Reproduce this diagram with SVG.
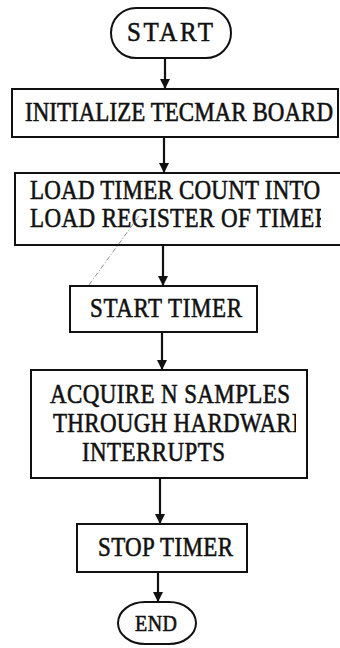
<svg xmlns="http://www.w3.org/2000/svg" width="340" height="648" viewBox="0 0 340 648">
  <style>
    .box { fill: #fff; stroke: #111; stroke-width: 2; }
    .lbl { font-family: "Liberation Serif", "Times New Roman", serif; font-size: 23px; fill: #111; stroke: #111; stroke-width: 0.5; }
    .flow { stroke: #111; stroke-width: 2.2; fill: none; marker-end: url(#arrow); }
    .mark { stroke: #777; stroke-width: 0.8; stroke-dasharray: 5 2 1 2; fill: none; }
  </style>
  <defs>
    <marker id="arrow" viewBox="0 0 10 10" refX="10" refY="5" markerWidth="10" markerHeight="10" markerUnits="userSpaceOnUse" orient="auto">
      <path d="M0,0 L10,5 L0,10 Z" fill="#111"/>
    </marker>
    <!-- the last letters of two lines run off the printed area -->
    <clipPath id="clipLoad"><rect x="0" y="200" width="321" height="40"/></clipPath>
    <clipPath id="clipHw"><rect x="0" y="405" width="296" height="40"/></clipPath>
  </defs>

  <rect width="340" height="648" fill="#fff"/>

  <g id="connectors">
    <line class="flow" x1="165" y1="58" x2="165" y2="89"/>
    <line class="flow" x1="164" y1="137" x2="164" y2="173"/>
    <line class="flow" x1="163" y1="245" x2="163" y2="286"/>
    <line class="flow" x1="162" y1="332" x2="162" y2="370"/>
    <line class="flow" x1="160" y1="478" x2="160" y2="524"/>
    <line class="flow" x1="158" y1="572" x2="158" y2="602"/>
  </g>

  <!-- labels are set a little taller than the font's normal proportions -->
  <g id="start">
    <rect class="box" x="111" y="8" width="120" height="50" rx="25" ry="25"/>
    <text class="lbl" transform="matrix(1 0 0 1.12 0 41)" x="127" y="0" textLength="86" lengthAdjust="spacing" style="font-size:25px">START</text>
  </g>

  <g id="init-board">
    <rect class="box" x="12" y="89" width="326" height="48"/>
    <text class="lbl" transform="matrix(1 0 0 1.15 0 121)" x="25" y="0" textLength="308" lengthAdjust="spacing">INITIALIZE TECMAR BOARD</text>
  </g>

  <g id="load-timer">
    <rect class="box" x="15" y="173" width="340" height="72"/>
    <text class="lbl" transform="matrix(1 0 0 1.15 0 199)" x="30" y="0" textLength="290" lengthAdjust="spacing">LOAD TIMER COUNT INTO</text>
    <g clip-path="url(#clipLoad)">
      <text class="lbl" transform="matrix(1 0 0 1.15 0 227)" x="30" y="0" textLength="300" lengthAdjust="spacing">LOAD REGISTER OF TIMER</text>
    </g>
  </g>

  <!-- faint pencil stroke across the gap -->
  <g id="pencil-mark">
    <line class="mark" x1="139" y1="216" x2="86" y2="289"/>
  </g>

  <g id="start-timer">
    <rect class="box" x="70" y="286" width="187" height="46"/>
    <text class="lbl" transform="matrix(1 0 0 1.15 0 317)" x="90" y="0" textLength="152" lengthAdjust="spacing">START TIMER</text>
  </g>

  <g id="acquire">
    <rect class="box" x="31" y="370" width="276" height="108"/>
    <text class="lbl" transform="matrix(1 0 0 1.15 0 403)" x="50" y="0" textLength="240" lengthAdjust="spacing">ACQUIRE N SAMPLES</text>
    <g clip-path="url(#clipHw)">
      <text class="lbl" transform="matrix(1 0 0 1.15 0 432)" x="53" y="0" textLength="253" lengthAdjust="spacing">THROUGH HARDWARE</text>
    </g>
    <text class="lbl" transform="matrix(1 0 0 1.15 0 461)" x="82" y="0" textLength="143" lengthAdjust="spacing">INTERRUPTS</text>
  </g>

  <g id="stop-timer">
    <rect class="box" x="77" y="524" width="170" height="48"/>
    <text class="lbl" transform="matrix(1 0 0 1.15 0 556)" x="98" y="0" textLength="135" lengthAdjust="spacing">STOP TIMER</text>
  </g>

  <g id="end">
    <rect class="box" x="118" y="602" width="78" height="42" rx="27" ry="21"/>
    <text class="lbl" transform="matrix(1 0 0 1.2 0 631)" x="135" y="0" textLength="42" lengthAdjust="spacing" style="font-size:20px">END</text>
  </g>
</svg>
